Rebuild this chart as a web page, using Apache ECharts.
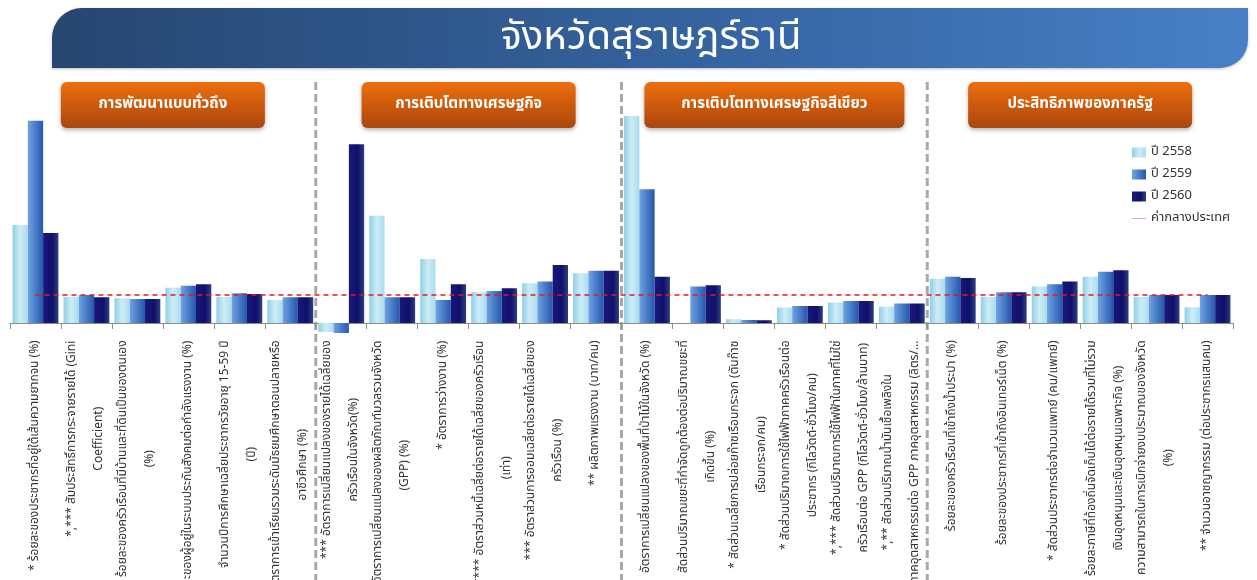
<!DOCTYPE html>
<html><head><meta charset="utf-8">
<script src="https://cdn.jsdelivr.net/npm/echarts@6/dist/echarts.min.js"></script>
<style>html,body{margin:0;padding:0;background:#fff}#c{width:1257px;height:580px}</style>
</head><body><div id="c"></div>
<script>
// ---------- data ----------
const categories = [
  "* ร้อยละของประชากรที่อยู่ใต้เส้นความยากจน (%)",
  "*,*** สัมประสิทธิ์การกระจายรายได้ (Gini\nCoefficient)",
  "ร้อยละของครัวเรือนที่มีบ้านและที่ดินเป็นของตนเอง\n(%)",
  "ร้อยละของผู้อยู่ในระบบประกันสังคมต่อกำลังแรงงาน (%)",
  "จำนวนปีการศึกษาเฉลี่ยประชากรวัยอายุ 15-59 ปี\n(ปี)",
  "อัตราการเข้าเรียนรวมระดับมัธยมศึกษาตอนปลายหรือ\nอาชีวศึกษา (%)",
  "*** อัตราการเปลี่ยนแปลงของรายได้เฉลี่ยของ\nครัวเรือนในจังหวัด(%)",
  "*อัตราการเปลี่ยนแปลงของผลิตภัณฑ์มวลรวมจังหวัด\n(GPP) (%)",
  "* อัตราการว่างงาน (%)",
  "*,**** อัตราส่วนหนี้เฉลี่ยต่อรายได้เฉลี่ยของครัวเรือน\n(เท่า)",
  "*** อัตราส่วนการออมเฉลี่ยต่อรายได้เฉลี่ยของ\nครัวเรือน (%)",
  "** ผลิตภาพแรงงาน (บาท/คน)",
  "อัตราการเปลี่ยนแปลงของพื้นที่ป่าไม้ในจังหวัด (%)",
  "สัดส่วนปริมาณขยะที่กำจัดถูกต้องต่อปริมาณขยะที่\nเกิดขึ้น (%)",
  "* สัดส่วนเฉลี่ยการปล่อยก๊าซเรือนกระจก (ตันก๊าซ\nเรือนกระจก/คน)",
  "* สัดส่วนปริมาณการใช้ไฟฟ้าภาคครัวเรือนต่อ\nประชากร (กิโลวัตต์-ชั่วโมง/คน)",
  "*,*** สัดส่วนปริมาณการใช้ไฟฟ้าในภาคที่ไม่ใช่\nครัวเรือนต่อ GPP (กิโลวัตต์-ชั่วโมง/ล้านบาท)",
  "*,** สัดส่วนปริมาณน้ำมันเชื้อเพลิงใน\nภาคอุตสาหกรรมต่อ GPP ภาคอุตสาหกรรม (ลิตร/…",
  "ร้อยละของครัวเรือนที่เข้าถึงน้ำประปา (%)",
  "ร้อยละของประชากรที่เข้าถึงอินเทอร์เน็ต (%)",
  "* สัดส่วนประชากรต่อจำนวนแพทย์ (คน/แพทย์)",
  "ร้อยละภาษีที่ท้องถิ่นจัดเก็บได้ต่อรายได้รวมที่ไม่รวม\nเงินอุดหนุนและเงินอุดหนุนเฉพาะกิจ (%)",
  "ความสามารถในการเบิกจ่ายงบประมาณของจังหวัด\n(%)",
  "** จำนวนอาชญากรรม (ต่อประชากรแสนคน)"
];
const sections = ["การพัฒนาแบบทั่วถึง", "การเติบโตทางเศรษฐกิจ", "การเติบโตทางเศรษฐกิจสีเขียว", "ประสิทธิภาพของภาครัฐ"];
const seriesNames = ["ปี 2558", "ปี 2559", "ปี 2560", "ค่ากลางประเทศ"];
const y2558 = [350, 94, 88, 126, 94, 82, -32, 383, 229, 110, 142, 178, 739, 0, 13, 55, 73, 58, 158, 94, 130, 165, 94, 56];
const y2559 = [722, 100, 86, 133, 106, 92, -36, 92, 82, 114, 148, 187, 478, 130, 11, 61, 79, 70, 165, 110, 138, 183, 100, 100];
const y2560 = [321, 92, 86, 138, 104, 92, 638, 92, 138, 124, 207, 187, 165, 135, 10, 61, 79, 70, 161, 110, 148, 188, 100, 100];
const national = [100, 100, 100, 100, 100, 100, 100, 100, 100, 100, 100, 100, 100, 100, 100, 100, 100, 100, 100, 100, 100, 100, 100, 100];
const pageTitle = "จังหวัดสุราษฎร์ธานี";

// ---------- styling ----------
const FF = "'Noto Sans Thai','Tahoma','Leelawadee UI','Noto Sans','DejaVu Sans',sans-serif";
const LG = echarts.graphic.LinearGradient;
const c1 = new LG(0, 0, 1, 0, [{offset: 0, color: '#8fcfe6'}, {offset: 0.5, color: '#cdedf7'}, {offset: 1, color: '#a9dcec'}]);
const c2 = new LG(0, 0, 1, 0, [{offset: 0, color: '#6fa3e3'}, {offset: 1, color: '#2557ad'}]);
const c3 = new LG(0, 0, 1, 0, [{offset: 0, color: '#18187c'}, {offset: 0.6, color: '#10106a'}, {offset: 1, color: '#2c4080'}]);

const LFS = 12, LLH = 27;
const mctx = document.createElement('canvas').getContext('2d');
mctx.font = LFS + 'px ' + FF;
const rich = {};
categories.forEach((c, i) => {
  const w = Math.max(...c.split('\n').map(l => mctx.measureText(l).width));
  rich['r' + i] = {width: Math.ceil(w), align: 'center', fontSize: LFS, lineHeight: LLH, color: '#333333', fontFamily: FF};
});

const chart = echarts.init(document.getElementById('c'), null, {renderer: 'canvas'});
const option = {
  animation: false,
  backgroundColor: '#ffffff',
  textStyle: {fontFamily: FF},
  grid: {left: 10, right: 24, top: 99, bottom: 245.8, containLabel: false, outerBoundsMode: 'none'},
  legend: {
    orient: 'vertical', left: 1127, top: 141, itemGap: 9, itemWidth: 14, itemHeight: 10,
    textStyle: {fontSize: 13, color: '#333', fontFamily: FF},
    data: [
      {name: seriesNames[0], icon: 'rect'},
      {name: seriesNames[1], icon: 'rect'},
      {name: seriesNames[2], icon: 'rect'},
      {name: seriesNames[3], icon: 'path://M0,0h0.01v0.01h-0.01z M0,4.5h14v1h-14z M13.99,9.99h0.01v0.01h-0.01z',
       itemStyle: {color: '#f6a5a5'}}
    ]
  },
  xAxis: {
    type: 'category', data: categories,
    axisLine: {onZero: true, lineStyle: {color: '#8c8c8c', width: 1}},
    axisTick: {show: true, length: 6, lineStyle: {color: '#8c8c8c'}},
    axisLabel: {
      interval: 0, rotate: 90, margin: 6,
      formatter: (v, i) => v.split('\n').map(l => '{r' + i + '|' + l + '}').join('\n'),
      rich: rich
    }
  },
  yAxis: {type: 'value', min: -40, max: 800, show: false, splitLine: {show: false}},
  series: [
    {name: seriesNames[0], type: 'bar', data: y2558, barGap: '0%', barCategoryGap: '10%', itemStyle: {color: c1}},
    {name: seriesNames[1], type: 'bar', data: y2559, barGap: '0%', barCategoryGap: '10%', itemStyle: {color: c2}},
    {name: seriesNames[2], type: 'bar', data: y2560, barGap: '0%', barCategoryGap: '10%', itemStyle: {color: c3}},
    {name: seriesNames[3], type: 'line', data: national, symbol: 'none', z: 5,
     lineStyle: {color: '#e8191c', width: 1.6, type: [5, 4]}, itemStyle: {color: '#e8191c'}}
  ]
};
chart.setOption(option);

// ---------- decorations positioned from the axis scale ----------
const px = i => chart.convertToPixel({xAxisIndex: 0}, i);
const step = px(1) - px(0);
const boundary = k => px(k) - step / 2;
const graphics = [];
graphics.push({
  type: 'rect', z: 1,
  shape: {x: 52, y: 8, width: 1196, height: 60, r: [30, 0, 28, 0]},
  style: {fill: new LG(0, 0, 1, 0, [{offset: 0, color: '#274670'}, {offset: 0.55, color: '#3564a0'}, {offset: 1, color: '#4880c7'}]),
          shadowBlur: 3, shadowColor: 'rgba(0,0,0,0.25)', shadowOffsetY: 1}
});
graphics.push({
  type: 'text', z: 2,
  style: {text: pageTitle, x: 651, y: 41, align: 'center', verticalAlign: 'middle', fill: '#ffffff',
          fontSize: 40, fontFamily: FF}
});
[6, 12, 18].forEach(k => {
  const x = boundary(k);
  graphics.push({type: 'line', z: 0, shape: {x1: x, y1: 82, x2: x, y2: 580},
    style: {stroke: '#a8a8a8', lineWidth: 3, lineDash: [8, 4]}});
});
const boxW = [204, 214, 260, 224];
sections.forEach((s, k) => {
  const cx = (boundary(k * 6) + boundary(k * 6 + 6)) / 2;
  graphics.push({
    type: 'rect', z: 3,
    shape: {x: cx - boxW[k] / 2, y: 82, width: boxW[k], height: 46, r: 6},
    style: {fill: new LG(0, 0, 0, 1, [{offset: 0, color: '#ef6e0c'}, {offset: 1, color: '#a9470d'}]),
            shadowBlur: 4, shadowColor: 'rgba(0,0,0,0.3)', shadowOffsetY: 2}
  });
  graphics.push({
    type: 'text', z: 4,
    style: {text: s, x: cx, y: 105, align: 'center', verticalAlign: 'middle', fill: '#ffffff',
            fontSize: 15, fontWeight: 'bold', fontFamily: FF}
  });
});
chart.setOption({graphic: graphics});
</script>
</body></html>
